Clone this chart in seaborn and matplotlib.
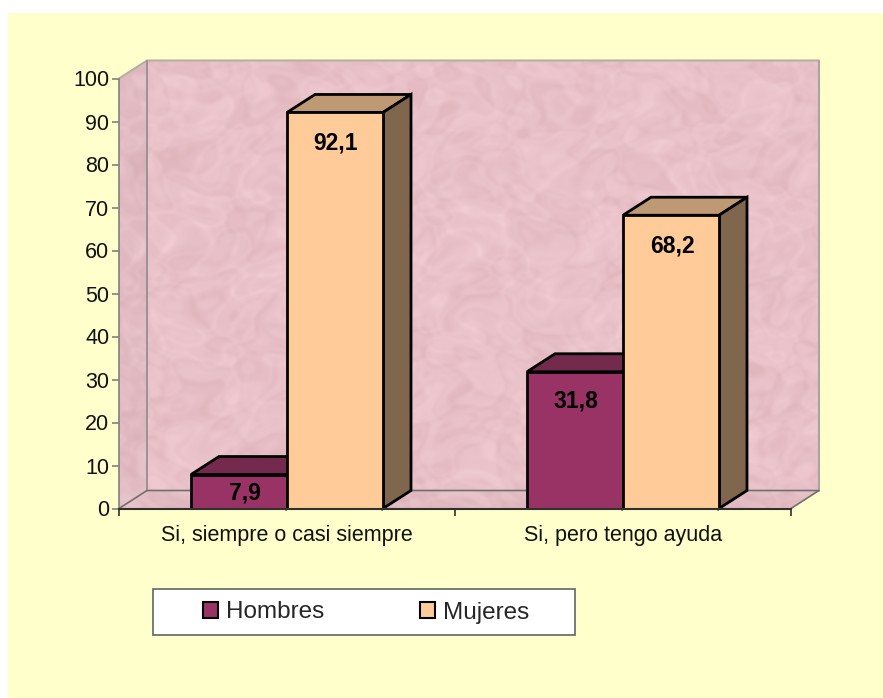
import numpy as np
import pandas as pd
import seaborn as sns
import matplotlib
matplotlib.use("Agg")
import matplotlib.pyplot as plt
from matplotlib.patches import Polygon, Rectangle

categories = ["Si, siempre o casi siempre", "Si, pero tengo ayuda"]
series_names = ["Hombres", "Mujeres"]
hombres = [7.9, 31.8]
mujeres = [92.1, 68.2]
y_ticks = list(range(0, 101, 10))

BG = "#FFFFCC"
COLORS = ["#993366", "#FFCC99"]
TOPS = ["#732A4D", "#BF9973"]
SIDES = ["#4D1A33", "#7F664C"]
W, H = 883, 698
LEFT, RIGHT, BOTTOM, TOP = 119, 791, 508.5, 78.5
DX_PX, DY_PX = 28, 18
FONT = "Liberation Sans"

sns.set_theme(style="white")
plt.rcParams["font.family"] = [FONT, "DejaVu Sans"]

fig = plt.figure(figsize=(W / 100, H / 100), dpi=100, facecolor="white")
fig.patches.append(Rectangle((8 / W, -0.01), 1.01 - 8 / W, 1.01 - 13 / H, transform=fig.transFigure,
                             fc=BG, ec="none", zorder=-10))
ax = fig.add_axes([LEFT / W, 1 - BOTTOM / H, (RIGHT - LEFT) / W, (BOTTOM - TOP) / H])
ax.set_facecolor("none")

df = pd.DataFrame({
    "cat": categories * 2,
    "serie": [series_names[0]] * 2 + [series_names[1]] * 2,
    "valor": hombres + mujeres,
})
sns.barplot(data=df, x="cat", y="valor", hue="serie", hue_order=series_names,
            palette=COLORS, width=192 / 336, gap=0, saturation=1,
            edgecolor="black", linewidth=2, ax=ax, zorder=5, legend=True)
ax.set_xlim(-0.5, 1.5)
ax.set_ylim(0, 100)
dx = DX_PX / (RIGHT - LEFT) * 2
dy = DY_PX / (BOTTOM - TOP) * 100

# mottled wall texture (decoration only, not data)
yy, xx = np.mgrid[0:1:220j, 0:1:340j]
u = xx + 0.035 * np.sin(31 * yy + 5 * np.sin(23 * xx)) + 0.012 * np.sin(97 * yy)
v = yy + 0.045 * np.sin(37 * xx + 5 * np.sin(19 * yy)) + 0.015 * np.sin(89 * xx)
tex = (np.sin(29 * u) * np.sin(23 * v)
       + 0.8 * np.sin(71 * u + 1.3) * np.sin(59 * v + 0.7)
       + 0.6 * np.sin(127 * u + 2.1) * np.sin(113 * v + 2.9))
tex = tex / np.abs(tex).max()
base = np.array([233, 193, 200]) / 255
amp = np.array([10, 13, 13]) / 255
rgb = np.clip(base[None, None, :] + tex[..., None] * amp[None, None, :], 0, 1)

def textured(img, extent, verts, shade=1.0):
    im = ax.imshow(img * shade, extent=extent, aspect="auto", origin="lower",
                   interpolation="bicubic", zorder=0.5)
    im.set_clip_box(fig.bbox)
    im.set_clip_path(Polygon(verts, closed=True, transform=ax.transData))
    return im

x0, x1 = -0.5, 1.5
textured(rgb, (x0 + dx, x1 + dx, dy, 100 + dy),
         [(x0 + dx, dy), (x1 + dx, dy), (x1 + dx, 100 + dy), (x0 + dx, 100 + dy)])
textured(rgb[:, :15], (x0, x0 + dx, 0, 100 + dy),
         [(x0, 0), (x0 + dx, dy), (x0 + dx, 100 + dy), (x0, 100)], 0.97)
textured(rgb[:10, :], (x0, x1 + dx, 0, dy),
         [(x0, 0), (x1, 0), (x1 + dx, dy), (x0 + dx, dy)], 0.97)
ax.set_xlim(x0, x1)
ax.set_ylim(0, 100)

# wall edges
edge = dict(clip_on=False, zorder=1)
ax.plot([x0, x0 + dx, x1 + dx], [100, 100 + dy, 100 + dy], color="#B5B0A0", lw=1.5, **edge)
ax.plot([x0 + dx, x0 + dx], [100 + dy, dy], color="#8C8C8C", lw=1.2, **edge)
ax.plot([x1 + dx, x1 + dx], [100 + dy, dy], color="#A8A4A0", lw=1.5, **edge)
ax.plot([x0, x0 + dx, x1 + dx, x1], [0, dy, dy, 0], color="#707070", lw=1.2, **edge)

# 3D bar faces, derived from the bars seaborn drew
containers = list(ax.containers)
for k, cont in enumerate(containers):
    for bar in cont:
        bx, bw, bh = bar.get_x(), bar.get_width(), bar.get_height()
        ax.add_patch(Polygon([(bx, bh), (bx + bw, bh), (bx + bw + dx, bh + dy), (bx + dx, bh + dy)],
                             closed=True, fc=TOPS[k], ec="black", lw=2, zorder=3 + k * 2,
                             clip_on=False, joinstyle="miter"))
        ax.add_patch(Polygon([(bx + bw, 0), (bx + bw + dx, dy), (bx + bw + dx, bh + dy), (bx + bw, bh)],
                             closed=True, fc=SIDES[k], ec="black", lw=2, zorder=3 + k * 2,
                             clip_on=False, joinstyle="miter"))
        bar.set_zorder(4 + k * 2)
        bar.set_joinstyle("miter")

# value labels
label_offsets = [[(6, -18), (1, -29)], [(0, -31), (1, -31)]]
for k, (cont, vals) in enumerate(zip(containers, [hombres, mujeres])):
    for j, (bar, v) in enumerate(zip(cont, vals)):
        off = label_offsets[k][j]
        ax.annotate(f"{v:.1f}".replace(".", ","),
                    (bar.get_x() + bar.get_width() / 2, v),
                    xytext=(off[0] * 0.72, off[1] * 0.72), textcoords="offset points",
                    ha="center", va="center", fontsize=16.5, fontweight="bold",
                    color="black", zorder=20, annotation_clip=False)

# axes
for s in ["top", "right"]:
    ax.spines[s].set_visible(False)
ax.spines["left"].set_color("#808080")
ax.spines["left"].set_linewidth(1.2)
ax.spines["bottom"].set_color("#303030")
ax.spines["bottom"].set_linewidth(1.5)
ax.spines["bottom"].set_zorder(12)
ax.set_yticks(y_ticks)
ax.set_xticks([0, 1])
ax.set_xticklabels(categories)
ax.set_xticks([-0.5, 0.5, 1.5], minor=True)
ax.tick_params(axis="y", which="major", length=5, width=1.2, color="#808080",
               labelsize=15.5, labelcolor="#111111", pad=2, left=True)
ax.tick_params(axis="x", which="major", length=0, labelsize=15.5, labelcolor="#111111", pad=12)
ax.tick_params(axis="x", which="minor", length=5, width=1.2, color="#303030", bottom=True)
ax.set_xlabel("")
ax.set_ylabel("")

# legend
fig.patches.append(Rectangle((153 / W, 1 - 635 / H), 422 / W, 46 / H, transform=fig.transFigure,
                             fc="white", ec="#707070", lw=1.3, zorder=-5))
handles, labels = ax.get_legend_handles_labels()
ax.get_legend().remove()
leg = fig.legend(handles, labels, ncol=2, loc="center",
                 bbox_to_anchor=(366 / W, 1 - 612.5 / H), frameon=False,
                 fontsize=17.5, handlelength=0.62, handleheight=0.62, handletextpad=0.33,
                 columnspacing=3.95, borderpad=0, borderaxespad=0)
for h in leg.legend_handles:
    h.set_edgecolor("black")
    h.set_linewidth(1.5)

fig.savefig("out.png", dpi=100, facecolor="white")
